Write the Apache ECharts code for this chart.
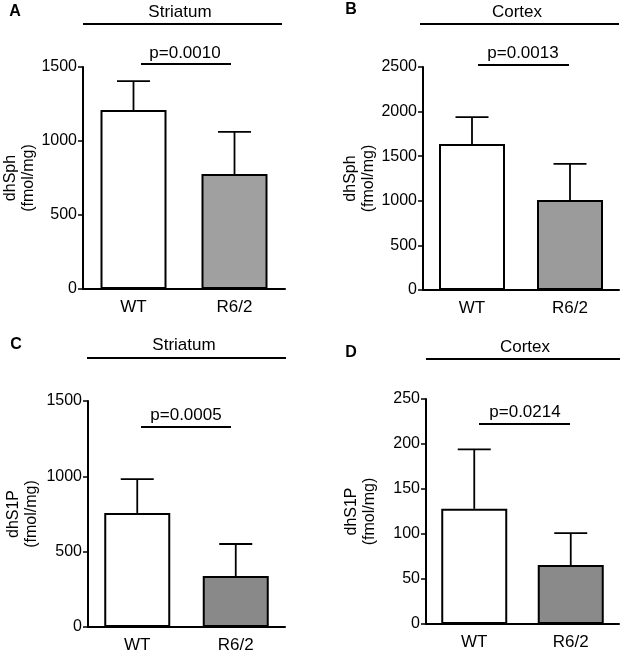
<!DOCTYPE html>
<html>
<head>
<meta charset="utf-8">
<script src="https://cdn.jsdelivr.net/npm/echarts@6/dist/echarts.min.js"></script>
<style>
html,body{margin:0;padding:0;background:#fff;}
#c{width:632px;height:657px;}
</style>
</head>
<body>
<div id="c"></div>
<script>
var categories = ['WT', 'R6/2'];

var dhSphStriatumMean = [1209, 777];
var dhSphStriatumErr = [196, 284];

var dhSphCortexMean = [1637, 1009];
var dhSphCortexErr = [302, 404];

var dhS1PStriatumMean = [757, 338];
var dhS1PStriatumErr = [225, 213];

var dhS1PCortexMean = [128, 65.5];
var dhS1PCortexErr = [66, 35.5];

var panelLetters = ['A', 'B', 'C', 'D'];
var panelTitles = ['Striatum', 'Cortex', 'Striatum', 'Cortex'];
var pValues = ['p=0.0010', 'p=0.0013', 'p=0.0005', 'p=0.0214'];
var yNames = ['dhSph\n(fmol/mg)', 'dhSph\n(fmol/mg)', 'dhS1P\n(fmol/mg)', 'dhS1P\n(fmol/mg)'];
var yMax = [1500, 2500, 1500, 250];
var yInterval = [500, 500, 500, 50];

var FONT = 'Liberation Sans, Arial, Helvetica, sans-serif';

var panels = [
  {mean: dhSphStriatumMean, err: dhSphStriatumErr, grid: {left: 83, top: 67, width: 202, height: 222}, gray: '#a0a0a0', nameGap: 45},
  {mean: dhSphCortexMean, err: dhSphCortexErr, grid: {left: 423, top: 67, width: 196, height: 223}, gray: '#9b9b9b', nameGap: 45},
  {mean: dhS1PStriatumMean, err: dhS1PStriatumErr, grid: {left: 88, top: 401, width: 197, height: 226}, gray: '#898989', nameGap: 47},
  {mean: dhS1PCortexMean, err: dhS1PCortexErr, grid: {left: 426, top: 399, width: 193, height: 225}, gray: '#8a8a8a', nameGap: 47}
];

var grids = [], xAxes = [], yAxes = [], series = [];
panels.forEach(function (p, i) {
  grids.push(p.grid);
  xAxes.push({
    type: 'category', gridIndex: i, data: categories,
    axisLine: {lineStyle: {color: '#000', width: 2}},
    axisTick: {alignWithLabel: true, length: 5, lineStyle: {color: '#000', width: 1.5}},
    axisLabel: {color: '#000', fontSize: 17, fontFamily: FONT, margin: 10}
  });
  yAxes.push({
    type: 'value', gridIndex: i, min: 0, max: yMax[i], interval: yInterval[i],
    name: yNames[i], nameLocation: 'middle', nameGap: p.nameGap, nameRotate: 90,
    nameMoveOverlap: false,
    nameTextStyle: {color: '#000', fontSize: 16, fontFamily: FONT, lineHeight: 18},
    axisLine: {show: true, lineStyle: {color: '#000', width: 2}},
    axisTick: {show: true, length: 5, lineStyle: {color: '#000', width: 1.5}},
    axisLabel: {color: '#000', fontSize: 16, fontFamily: FONT, margin: 6,
      formatter: function (v) { return String(v); }},
    splitLine: {show: false}
  });
  series.push({
    type: 'bar', xAxisIndex: i, yAxisIndex: i, barWidth: 66,
    data: p.mean.map(function (v, k) {
      return {value: v, itemStyle: {color: k === 0 ? '#ffffff' : p.gray, borderColor: '#000', borderWidth: 2}};
    }),
    silent: true
  });
  series.push({
    type: 'custom', xAxisIndex: i, yAxisIndex: i, z: 1,
    data: p.mean.map(function (v, k) { return [k, v, v + p.err[k]]; }),
    renderItem: function (params, api) {
      var base = api.coord([api.value(0), api.value(1)]);
      var top = api.coord([api.value(0), api.value(2)]);
      var hw = 16.5;
      var st = {stroke: '#000', lineWidth: 1.8};
      return {
        type: 'group',
        children: [
          {type: 'line', shape: {x1: base[0], y1: base[1], x2: top[0], y2: top[1]}, style: st},
          {type: 'line', shape: {x1: top[0] - hw, y1: top[1], x2: top[0] + hw, y2: top[1]}, style: st}
        ]
      };
    },
    silent: true
  });
});

var letterPos = [[15, 12], [351, 10], [16, 345], [351, 353]];
var titlePos = [[180, 12], [517, 12], [184, 345], [525, 347]];
var titleLine = [[83, 282, 24], [420, 619, 24], [87, 286, 358], [426, 620, 359]];
var pPos = [[185, 53], [523, 53], [186, 415], [525, 412]];
var pLine = [[141, 231, 64], [478, 569, 65], [141, 231, 427], [479, 570, 424]];

var graphics = [];
for (var i = 0; i < 4; i++) {
  graphics.push({type: 'text', x: letterPos[i][0], y: letterPos[i][1],
    style: {text: panelLetters[i], font: 'bold 16px ' + FONT, fill: '#000', align: 'center', verticalAlign: 'middle'}});
  graphics.push({type: 'text', x: titlePos[i][0], y: titlePos[i][1],
    style: {text: panelTitles[i], font: '17px ' + FONT, fill: '#000', align: 'center', verticalAlign: 'middle'}});
  graphics.push({type: 'line', shape: {x1: titleLine[i][0], y1: titleLine[i][2], x2: titleLine[i][1], y2: titleLine[i][2]},
    style: {stroke: '#000', lineWidth: 1.8}});
  graphics.push({type: 'text', x: pPos[i][0], y: pPos[i][1],
    style: {text: pValues[i], font: '17px ' + FONT, fill: '#000', align: 'center', verticalAlign: 'middle'}});
  graphics.push({type: 'line', shape: {x1: pLine[i][0], y1: pLine[i][2], x2: pLine[i][1], y2: pLine[i][2]},
    style: {stroke: '#000', lineWidth: 1.8}});
}

var chart = echarts.init(document.getElementById('c'), null, {renderer: 'canvas'});
chart.setOption({
  animation: false,
  backgroundColor: '#fff',
  grid: grids,
  xAxis: xAxes,
  yAxis: yAxes,
  series: series,
  graphic: graphics
});
</script>
</body>
</html>
